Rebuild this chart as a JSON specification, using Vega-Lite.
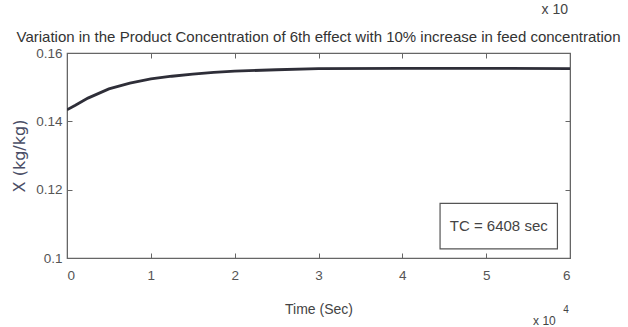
{
  "$schema": "https://vega.github.io/schema/vega-lite/v6.json",
  "width": 503,
  "height": 205,
  "autosize": {"type": "none"},
  "padding": {"left": 67, "top": 53, "right": 58, "bottom": 69},
  "background": "white",
  "title": {
    "text": "Variation in the Product Concentration of 6th effect with 10% increase in feed concentration",
    "font": "Liberation Sans",
    "fontSize": 15,
    "fontWeight": "normal",
    "color": "#333",
    "anchor": "middle",
    "offset": -42
  },
  "config": {
    "view": {"stroke": "#666", "strokeWidth": 1.2},
    "axis": {
      "grid": false,
      "domainColor": "#666",
      "tickColor": "#666",
      "tickSize": -5,
      "labelColor": "#555",
      "labelFont": "Liberation Sans",
      "labelFontSize": 13.5,
      "titleFont": "Liberation Sans",
      "titleFontSize": 14,
      "titleFontWeight": "normal",
      "titleColor": "#444"
    }
  },
  "datasets": {
    "curve": [
      {"t": 0, "x": 0.1434},
      {"t": 0.1, "x": 0.1447},
      {"t": 0.25, "x": 0.1468},
      {"t": 0.5, "x": 0.1495},
      {"t": 0.75, "x": 0.1512},
      {"t": 1.0, "x": 0.1524},
      {"t": 1.25, "x": 0.1532},
      {"t": 1.5, "x": 0.1538},
      {"t": 1.75, "x": 0.1543},
      {"t": 2.0, "x": 0.1547},
      {"t": 2.5, "x": 0.1551},
      {"t": 3.0, "x": 0.1554},
      {"t": 4.0, "x": 0.1555},
      {"t": 5.0, "x": 0.1555},
      {"t": 6.0, "x": 0.1554}
    ],
    "box": [{"x1": 4.45, "x2": 5.85, "y1": 0.1027, "y2": 0.116, "label": "TC = 6408 sec", "xm": 5.15, "ym": 0.1093}],
    "notes": [
      {"t": 5.66, "x": 0.1726, "label": "x 10", "size": 14},
      {"t": 5.56, "x": 0.0816, "label": "x 10", "size": 12},
      {"t": 5.92, "x": 0.0848, "label": "4", "size": 10}
    ]
  },
  "layer": [
    {
      "data": {"name": "curve"},
      "mark": {"type": "line", "color": "#2e2e38", "strokeWidth": 2.8, "clip": true},
      "encoding": {
        "x": {"field": "t", "type": "quantitative", "scale": {"domain": [0, 6], "nice": false},
          "axis": {"orient": "bottom", "values": [0, 1, 2, 3, 4, 5, 6], "format": "d", "title": "Time (Sec)", "labelPadding": 15, "titlePadding": 21}},
        "y": {"field": "x", "type": "quantitative", "scale": {"domain": [0.1, 0.16], "nice": false, "zero": false},
          "axis": {"orient": "left", "values": [0.1, 0.12, 0.14, 0.16], "format": "~g", "title": "X (kg/kg)", "labelPadding": 10, "titlePadding": 8, "titleFont": "DejaVu Sans", "titleFontSize": 16, "titleColor": "#4a4e66"}}
      }
    },
    {
      "data": {"name": "curve"},
      "mark": {"type": "line", "opacity": 0},
      "encoding": {
        "x": {"field": "t", "type": "quantitative",
          "axis": {"orient": "top", "values": [0, 1, 2, 3, 4, 5, 6], "labels": false, "title": null}},
        "y": {"field": "x", "type": "quantitative",
          "axis": {"orient": "right", "values": [0.1, 0.12, 0.14, 0.16], "labels": false, "title": null}}
      }
    },
    {
      "data": {"name": "box"},
      "mark": {"type": "rect", "fill": "white", "stroke": "#555", "strokeWidth": 1.2},
      "encoding": {
        "x": {"field": "x1", "type": "quantitative", "axis": null},
        "x2": {"field": "x2"},
        "y": {"field": "y1", "type": "quantitative", "axis": null},
        "y2": {"field": "y2"}
      }
    },
    {
      "data": {"name": "box"},
      "mark": {"type": "text", "font": "Liberation Sans", "fontSize": 15, "color": "#444", "align": "center", "baseline": "middle"},
      "encoding": {
        "x": {"field": "xm", "type": "quantitative", "axis": null},
        "y": {"field": "ym", "type": "quantitative", "axis": null},
        "text": {"field": "label"}
      }
    },
    {
      "data": {"name": "notes"},
      "mark": {"type": "text", "font": "Liberation Sans", "color": "#444", "align": "left", "baseline": "middle"},
      "encoding": {
        "x": {"field": "t", "type": "quantitative", "axis": null},
        "y": {"field": "x", "type": "quantitative", "axis": null},
        "text": {"field": "label"},
        "size": {"field": "size", "type": "quantitative", "scale": null, "legend": null}
      }
    }
  ],
  "resolve": {"axis": {"x": "independent", "y": "independent"}}
}
